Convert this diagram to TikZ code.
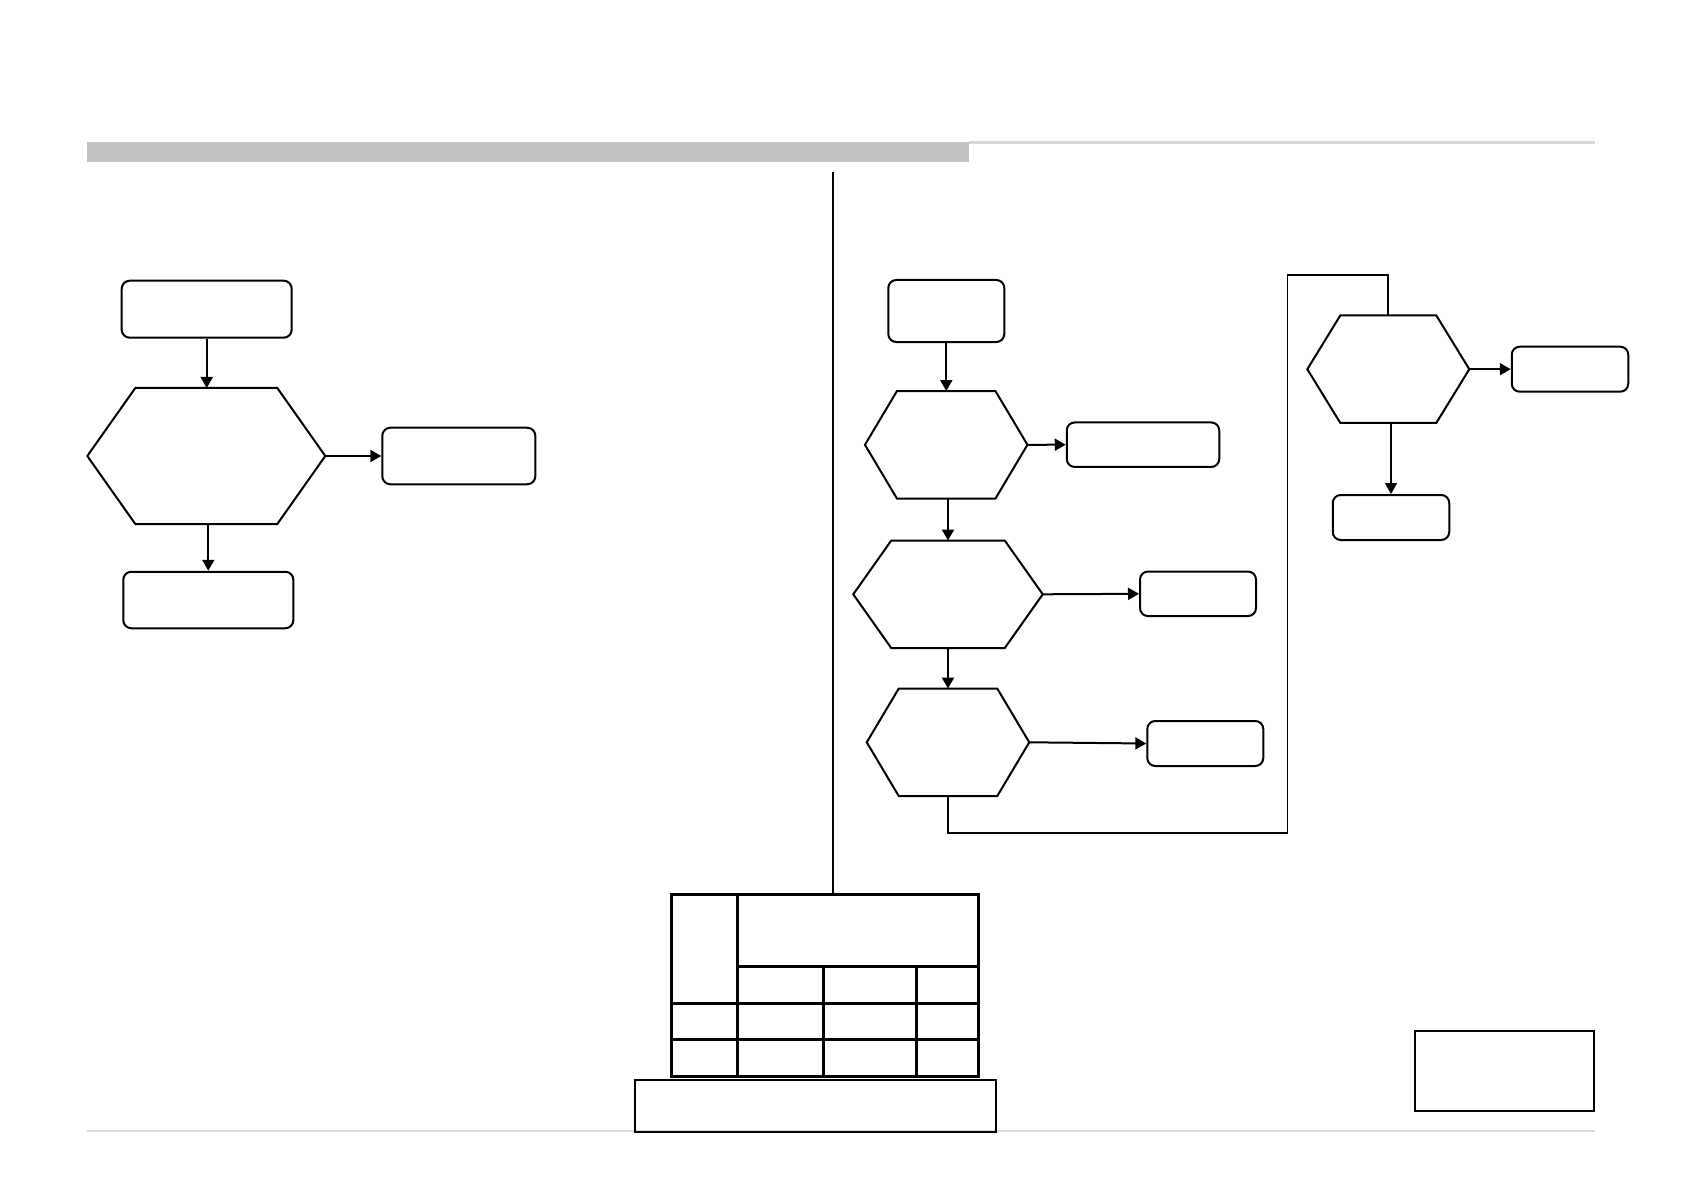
\documentclass[tikz,border=0pt]{standalone}
\usepackage{xcolor}
\usepackage{tikz}
\usetikzlibrary{arrows.meta, positioning, calc}
\definecolor{barfill}{HTML}{C0C0C0}
\definecolor{rulegray}{HTML}{DADADA}

\tikzset{
  box/.style={draw, line width=0.4mm, rounded corners=1.6mm, inner sep=0pt},
  hexa/.style={inner sep=0pt, outer sep=0pt},
  hexline/.style={line width=0.4mm},
  arr/.style={line width=0.4mm, -{Triangle[length=2.2mm, width=2.4mm]}},
  tline/.style={line width=0.6mm},
}

\begin{document}
\begin{tikzpicture}[x=0.2mm, y=-0.2mm]
\useasboundingbox (0,0) rectangle (1683,1191);

% Header bar and footer rule
\fill[barfill] (87,141.7) rectangle (969,162);
\draw[rulegray, line width=0.6mm] (969,143) -- (1595,143);
\draw[rulegray, line width=0.3mm] (87,1131) -- (1595,1131);

% Left flow
\node[box, minimum width=34mm, minimum height=11.4mm] (s1) at (206.7,309.2) {};
\node[hexa, minimum width=47.6mm, minimum height=27.2mm] (d1) at (206.3,456) {};
\node[box, minimum width=30.6mm, minimum height=11.3mm] (r1) at (458.8,456) {};
\node[box, minimum width=34mm, minimum height=11.3mm] (b1) at (208.3,600) {};

% Right flow
\node[box, minimum width=23.2mm, minimum height=12.4mm] (s2) at (946.3,311) {};
\node[hexa, minimum width=32.5mm, minimum height=21.5mm] (d2) at (946.2,444.8) {};
\node[box, minimum width=30.5mm, minimum height=8.9mm] (r2) at (1143,444.7) {};
\node[hexa, minimum width=37.9mm, minimum height=21.5mm] (d3) at (948,594.3) {};
\node[box, minimum width=23.2mm, minimum height=8.9mm] (r3) at (1198,593.8) {};
\node[hexa, minimum width=32.5mm, minimum height=21.5mm] (d4) at (948,742.3) {};
\node[box, minimum width=23.2mm, minimum height=9mm] (r4) at (1205.3,743.5) {};
\node[hexa, minimum width=32.4mm, minimum height=21.5mm] (d5) at (1388.3,369.2) {};
\node[box, minimum width=23.3mm, minimum height=9mm] (r5) at (1570,369.2) {};
\node[box, minimum width=23.3mm, minimum height=9mm] (b5) at (1391,517.5) {};

% hexagon outlines
\foreach \h/\i in {d1/48, d2/32, d3/38, d4/32, d5/33}
  \draw[hexline] (\h.west) -- ($(\h.north west)+(\i,0)$) -- ($(\h.north east)+(-\i,0)$)
    -- (\h.east) -- ($(\h.south east)+(-\i,0)$) -- ($(\h.south west)+(\i,0)$) -- cycle;

% arrows
\draw[arr] (s1.south) -- (s1.south |- d1.north);
\draw[arr] (d1.east) -- (r1.west);
\draw[arr] (b1.north |- d1.south) -- (b1.north);
\draw[arr] (s2.south) -- (s2.south |- d2.north);
\draw[arr] (d2.east) -- (r2.west);
\draw[arr] (d3.north |- d2.south) -- (d3.north);
\draw[arr] (d3.east) -- (r3.west);
\draw[arr] (d4.north |- d3.south) -- (d4.north);
\draw[arr] (d4.east) -- (r4.west);
\draw[arr] (d5.east) -- (r5.west);
\draw[arr] (b5.north |- d5.south) -- (b5.north);

% loop back to the top
\coordinate (lp1) at (1287.5,833);
\coordinate (lp2) at (1287.5,274.7);
\draw[line width=0.35mm] (d4.south) |- (lp1) -- (lp2) -| (d5.north);

% Table
\coordinate (top) at (833,171.7);
\node[draw, tline, inner sep=0pt, minimum width=61.3mm, minimum height=36.5mm] (tbl) at (825,985.4) {};
\draw[hexline] (top) -- (top |- tbl.north);
\draw[tline] (737.7,894) -- (737.7,1076.7);
\draw[tline] (737.7,966) -- (978.3,966);
\draw[tline] (671.7,1003) -- (978.3,1003) (671.7,1039.7) -- (978.3,1039.7);
\draw[tline] (823.7,966) -- (823.7,1076.7) (916,966) -- (916,1076.7);

% boxes at the bottom
\draw[line width=0.4mm] (635.4,1079.5) rectangle (996,1132);
\draw[line width=0.5mm] (1415,1031) rectangle (1594,1111);
\end{tikzpicture}
\end{document}
